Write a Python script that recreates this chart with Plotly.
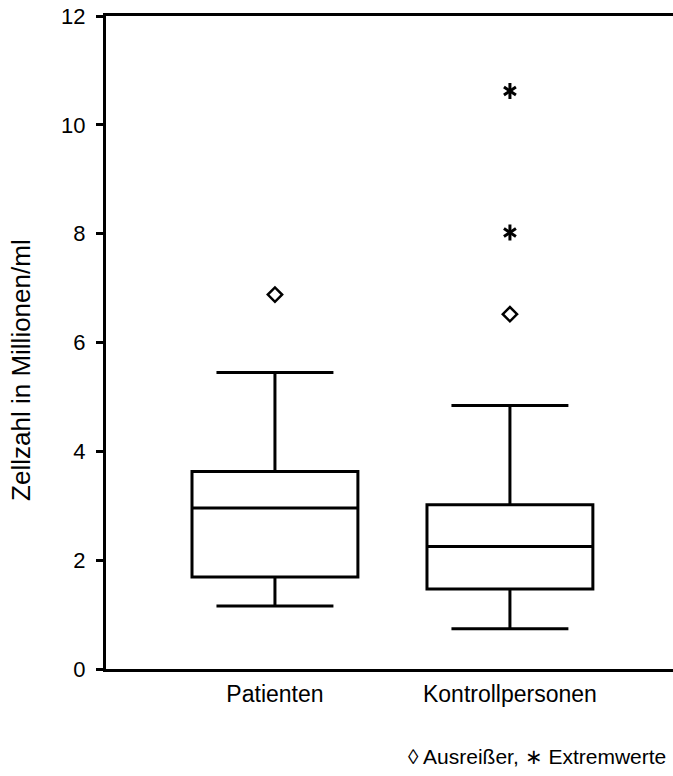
import plotly.graph_objects as go

categories = ["Patienten", "Kontrollpersonen"]
lower_fence = [1.16, 0.74]
q1 = [1.69, 1.47]
median = [2.96, 2.25]
q3 = [3.63, 3.02]
upper_fence = [5.45, 4.84]

outlier_x = ["Patienten", "Kontrollpersonen"]
outlier_y = [6.88, 6.52]
extreme_x = ["Kontrollpersonen", "Kontrollpersonen"]
extreme_y = [8.02, 10.62]

y_ticks = [0, 2, 4, 6, 8, 10, 12]

FONT = "Liberation Sans, Arial, sans-serif"

fig = go.Figure()
fig.add_trace(go.Box(
    x=categories, q1=q1, median=median, q3=q3,
    lowerfence=lower_fence, upperfence=upper_fence,
    boxpoints=False, width=0.706, whiskerwidth=0.705,
    fillcolor="white", line=dict(color="black", width=3),
    showlegend=False, hoverinfo="skip",
))
fig.add_trace(go.Scatter(
    x=outlier_x, y=outlier_y, mode="markers",
    marker=dict(symbol="diamond-open", size=11, color="black",
                line=dict(color="black", width=2.5)),
    showlegend=False,
))
for sym in ["y-up-open", "y-down-open"]:
    fig.add_trace(go.Scatter(
        x=extreme_x, y=extreme_y, mode="markers",
        marker=dict(symbol=sym, size=10, color="black",
                    line=dict(color="black", width=3)),
        showlegend=False,
    ))

fig.update_layout(
    width=673, height=776,
    margin=dict(l=106, r=0, t=16, b=107),
    paper_bgcolor="white", plot_bgcolor="white",
    font=dict(family=FONT, size=22, color="black"),
    xaxis=dict(
        type="category", categoryorder="array", categoryarray=categories,
        range=[-0.719, 1.694], showline=True, linecolor="black", linewidth=3,
        mirror=True, ticks="", showgrid=False, zeroline=False,
        ticklabelstandoff=2, tickfont=dict(size=23),
    ),
    yaxis=dict(
        range=[0, 12], tickvals=y_ticks, showline=True, linecolor="black",
        linewidth=3, ticks="outside", ticklen=7, tickwidth=3, tickcolor="black",
        showgrid=False, zeroline=False, ticklabelstandoff=6,
        ticklabeloverflow="allow", tickfont=dict(size=22),
    ),
    annotations=[
        dict(text="Zellzahl in Millionen/ml", textangle=-90,
             xref="paper", yref="paper", x=-0.150, y=0.458,
             xanchor="center", yanchor="middle", showarrow=False,
             font=dict(size=26)),
        dict(text="◊ Ausreißer, ∗ Extremwerte",
             xref="paper", yref="paper", x=0.991, y=-0.134,
             xanchor="right", yanchor="middle", showarrow=False,
             font=dict(size=21)),
    ],
)

# remove the browser's default 8px body margin so the figure fills the window
fig.write_html("out.html",
               config={"displayModeBar": False},
               post_script="document.body.style.margin='0';")
